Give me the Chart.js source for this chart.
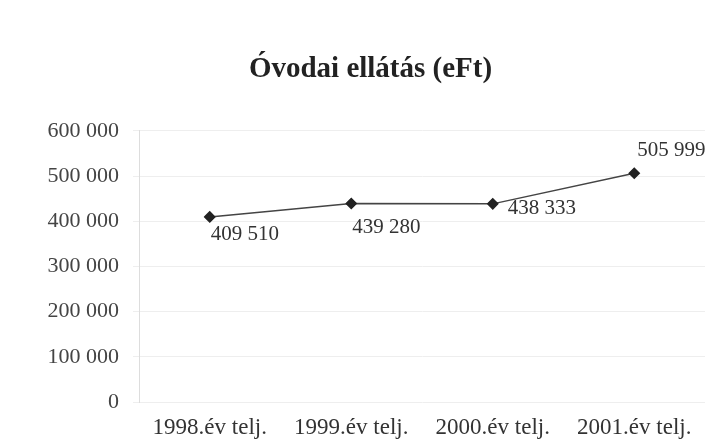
<!DOCTYPE html>
<html lang="hu">
<head>
  <meta charset="UTF-8" />
  <title>Óvodai ellátás</title>
  <script src="https://cdn.jsdelivr.net/npm/chart.js"></script>
  <style>
    body { margin: 0; background: #fff; }
    #wrap { width: 714px; height: 446px; }
  </style>
</head>
<body>
  <div id="wrap"><canvas id="chart"></canvas></div>
  <script>
    // Adatok
    const labels = ['1998.év telj.', '1999.év telj.', '2000.év telj.', '2001.év telj.'];
    const values = [409510, 439280, 438333, 505999];
    const yTicks = [0, 100000, 200000, 300000, 400000, 500000, 600000];

    const fmt = v => String(v).replace(/\B(?=(\d{3})+(?!\d))/g, ' ');

    // label offsets relative to each point
    const labelPos = [
      { dx: 1, dy: 18 },
      { dx: 1, dy: 24 },
      { dx: 15, dy: 5 },
      { dx: 3, dy: -23 }
    ];

    const pointLabels = {
      id: 'pointLabels',
      afterDatasetsDraw(chart) {
        const ctx = chart.ctx;
        const meta = chart.getDatasetMeta(0);
        ctx.save();
        ctx.font = '21px "Liberation Serif", serif';
        ctx.fillStyle = '#333';
        ctx.textBaseline = 'middle';
        ctx.textAlign = 'left';
        meta.data.forEach((pt, i) => {
          const p = labelPos[i];
          ctx.fillText(fmt(values[i]), pt.x + p.dx, pt.y + p.dy);
        });
        ctx.restore();
      }
    };

    new Chart(document.getElementById('chart'), {
      type: 'line',
      data: {
        labels: labels,
        datasets: [{
          data: values,
          borderColor: '#444',
          borderWidth: 1.5,
          pointStyle: 'rectRot',
          pointRadius: 5,
          pointBackgroundColor: '#222',
          pointBorderColor: '#222',
          tension: 0
        }]
      },
      options: {
        responsive: true,
        maintainAspectRatio: false,
        animation: false,
        layout: { padding: { left: 36, right: 9, top: 0, bottom: 0 } },
        plugins: {
          legend: { display: false },
          tooltip: { enabled: false },
          title: {
            display: true,
            text: 'Óvodai ellátás (eFt)',
            color: '#222',
            font: { family: '"Liberation Serif", serif', size: 29, weight: 'bold' },
            padding: { top: 52, bottom: 44 }
          }
        },
        scales: {
          x: {
            offset: true,
            grid: { display: false },
            border: { display: false },
            ticks: {
              color: '#333',
              font: { family: '"Liberation Serif", serif', size: 23 },
              padding: 4,
              maxRotation: 0
            },
            afterFit: s => { s.height = 44; }
          },
          y: {
            min: 0,
            max: 600000,
            afterBuildTicks: s => { s.ticks = yTicks.map(v => ({ value: v })); },
            afterFit: s => { s.width = 103; },
            grid: { color: '#eee', tickLength: 6 },
            border: { color: '#ddd' },
            ticks: {
              color: '#444',
              font: { family: '"Liberation Serif", serif', size: 22 },
              padding: 14,
              callback: v => fmt(v)
            }
          }
        }
      },
      plugins: [pointLabels]
    });
  </script>
</body>
</html>
